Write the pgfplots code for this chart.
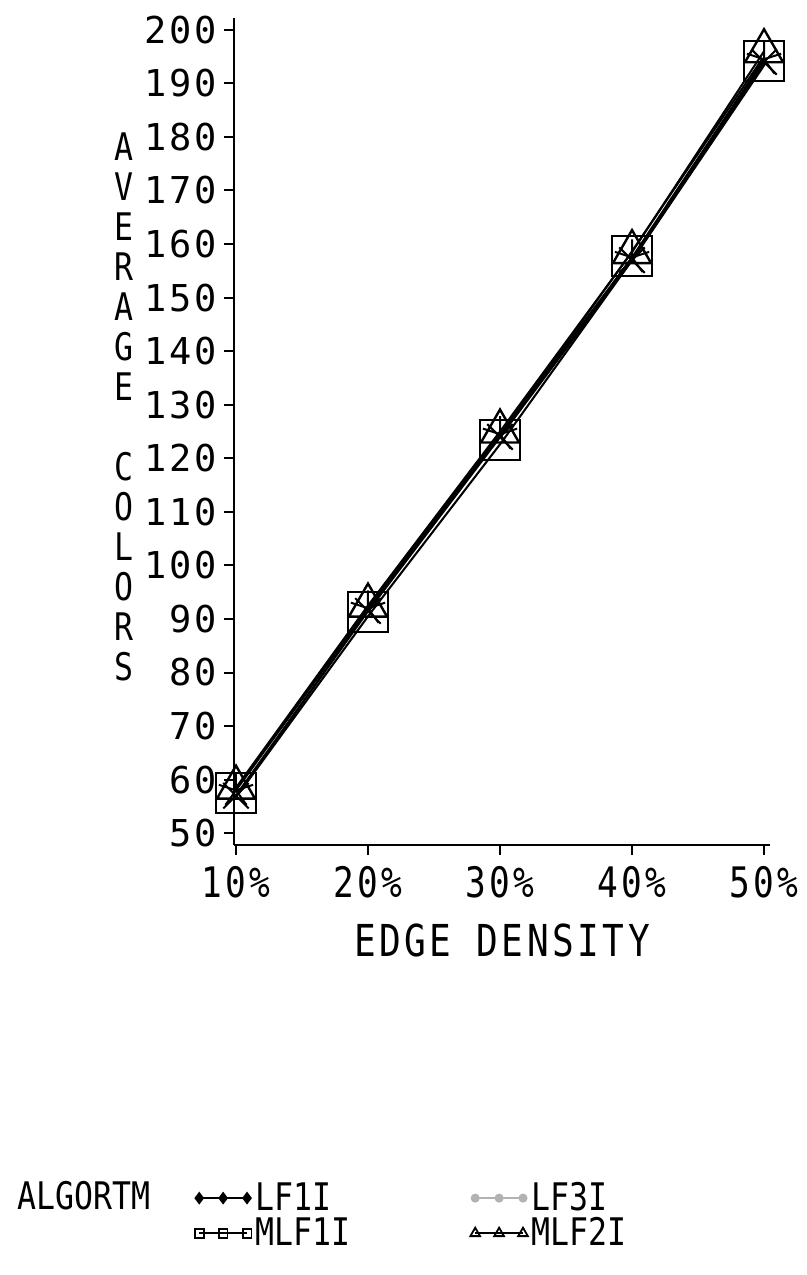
\documentclass[border=0pt]{standalone}
\usepackage{fontspec}
\setmainfont{DejaVu Sans Mono}[LetterSpace=8]
\newfontfamily\plotfont{DejaVu Sans Mono}[FakeStretch=0.83]
\newfontfamily\xfont{DejaVu Sans Mono}[FakeStretch=0.82, LetterSpace=8]
\usepackage{pgfplots}
\pgfplotsset{compat=1.18}
\begin{document}
\begin{tikzpicture}
\begin{axis}[
  scale only axis,
  clip=false,
  width=268pt, height=413.5pt,
  xmin=9.85, xmax=50.45,
  ymin=47.8, ymax=202.2,
  axis x line*=bottom, axis y line*=left,
  axis line style={line width=1pt, -},
  tick align=outside,
  major tick length=5pt,
  tick style={line width=1pt, black},
  xtick={10,20,30,40,50},
  xticklabels={10\%,20\%,30\%,40\%,50\%},
  ytick={50,60,...,200},
  /pgf/number format/assume math mode=true,
  yticklabel style={font=\fontsize{18.5}{20}\selectfont},
  xticklabel style={font=\xfont\fontsize{21}{22}\selectfont, yshift=-2pt},
  xlabel={EDGE DENSITY},
  xlabel style={font=\xfont\fontsize{22}{24}\selectfont, yshift=-6pt},
  legend columns=2,
  legend image code/.code={\draw[mark repeat=1,#1] plot coordinates {(0cm,0cm) (0.42cm,0cm) (0.84cm,0cm)};},
  legend style={at={(-0.085,-0.398)}, anchor=north west, draw=none, fill=none,
    font=\plotfont\fontsize{19}{19}\selectfont, row sep=-2pt,
    /tikz/every even column/.append style={column sep=58pt}},
  legend cell align=left,
]
% legend images
\addlegendimage{black, line width=0.9pt, mark=diamond*, mark size=2.5pt}
\addlegendentry{LF1I}
\addlegendimage{gray!60, line width=0.9pt, mark=*, mark size=1.8pt}
\addlegendentry{LF3I}
\addlegendimage{black, line width=0.9pt, mark=square, mark size=2.2pt}
\addlegendentry{MLF1I}
\addlegendimage{black, line width=0.9pt, mark=triangle, mark size=2.8pt}
\addlegendentry{MLF2I}

% MLF1I line drawn as a double line
\addplot[forget plot, black, line width=1.1pt, double=white, double distance=1.4pt, no marks]
  coordinates {(10,57.5) (20,91.3) (30,123.4) (40,157.8) (50,194.2)};
\addplot[forget plot, black, line width=1.2pt, mark=x, mark size=9pt, mark options={line width=1pt}]
  coordinates {(10,57) (20,91.5) (30,124) (40,157) (50,194)};
\addplot[forget plot, black, line width=1.0pt, mark=star, mark size=9pt, mark options={line width=1pt}]
  coordinates {(10,58) (20,92) (30,124.5) (40,157.5) (50,194.5)};
\addplot[forget plot, black, only marks, mark=square, mark size=10pt, mark options={line width=1.2pt}]
  coordinates {(10,57.5) (20,91.3) (30,123.4) (40,157.8) (50,194.2)};
\addplot[forget plot, black, line width=1.0pt, mark=triangle, mark size=11pt, mark options={line width=1.2pt}]
  coordinates {(10,58.5) (20,92.5) (30,125) (40,158.5) (50,196)};

\node[anchor=north, align=center, inner sep=0pt, font=\plotfont\fontsize{19}{20}\selectfont]
  at (rel axis cs:-0.205,0.862) {A\\V\\E\\R\\A\\G\\E\\\mbox{}\\C\\O\\L\\O\\R\\S};
\node[anchor=west, inner sep=0pt, font=\plotfont\fontsize{19}{19}\selectfont]
  at (rel axis cs:-0.405,-0.424) {ALGORTM};
\path (rel axis cs:-0.4366,-0.520) rectangle (rel axis cs:1.069,1.0218);
\end{axis}
\end{tikzpicture}
\end{document}
